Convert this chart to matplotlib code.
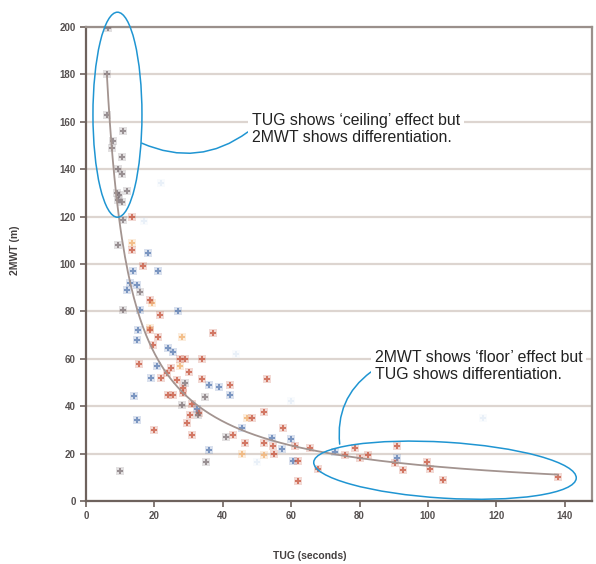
import numpy as np
import matplotlib
matplotlib.use("Agg")
import matplotlib.pyplot as plt
from matplotlib.patches import Ellipse
from matplotlib.transforms import ScaledTranslation

plt.rcParams['font.family'] = ['Liberation Sans', 'DejaVu Sans']

# ---- data (TUG seconds, 2MWT metres) ----
gray_x = [6.4, 6.1, 6.1, 7.9, 7.6, 10.5, 9.4, 10.5, 12.0, 9.1, 9.6, 9.4, 10.5, 10.8, 10.8,
          9.4, 15.8, 10.8, 29.0, 34.8, 28.0, 32.8, 41.0, 35.0, 10.0]
gray_y = [199.6, 180, 163, 152, 149, 145, 140, 138, 131, 130, 129, 127, 126, 156, 118.6,
          108, 88, 80.6, 50, 44, 40.5, 36.3, 27, 16.5, 12.7]

blue_x = [18.0, 13.7, 21.0, 12.9, 14.9, 12.0, 15.8, 26.9, 15.2, 14.9, 24.0, 25.4, 20.8, 19.0,
          36.0, 39.0, 42.0, 14.0, 32.5, 14.9, 45.6, 54.4, 60.0, 57.3, 36.0, 60.5, 72.8, 91.0]
blue_y = [104.6, 97, 97, 92, 91, 89, 80.6, 80, 72, 68, 64.5, 63, 57, 52,
          49, 48, 44.7, 44.3, 39, 34, 31, 26.6, 26, 22, 21.5, 17, 20.7, 18]

red_x = [13.5, 13.5, 16.7, 18.7, 21.6, 18.7, 37.0, 21.0, 19.6, 27.5, 29.0, 34.0, 15.5, 25.0,
         30.0, 23.7, 22.0, 26.6, 34.0, 53.0, 42.0, 28.5, 24.0, 25.4, 28.4, 31.0, 33.0, 30.4,
         29.5, 48.5, 52.0, 57.6, 20.0, 31.0, 43.0, 46.5, 52.0, 54.7, 55.0, 61.0, 65.5, 62.0,
         68.0, 62.0, 75.7, 78.6, 80.0, 82.5, 91.0, 90.4, 92.7, 99.7, 100.6, 104.4, 138.0]
red_y = [120, 106, 99, 85, 78.5, 72, 71, 69, 66, 60, 60, 60, 58, 56,
         54.5, 54, 52, 51, 51.5, 51.5, 49, 47.7, 44.7, 44.7, 45.5, 41, 37, 36.3,
         33, 35, 37.5, 31, 30, 28, 28, 24.5, 24.5, 23, 20, 23, 22.4, 17,
         13.5, 8.5, 19.4, 22.4, 18, 19.4, 23.2, 16, 13, 16.5, 13.5, 8.9, 10]

orange_x = [13.5, 19.3, 18.7, 28.0, 27.5, 47.0, 52.0, 45.6]
orange_y = [109, 83.5, 73, 69, 57, 35, 19.4, 20]

pale_x = [22.0, 116.0, 50.0, 17.0, 60.0, 44.0]
pale_y = [134, 35, 16.5, 118, 42, 62]

x_ticks = [0, 20, 40, 60, 80, 100, 120, 140]
y_ticks = [0, 20, 40, 60, 80, 100, 120, 140, 160, 180, 200]

note_ceiling = "TUG shows \u2018ceiling\u2019 effect but\n2MWT shows differentiation."
note_floor = "2MWT shows \u2018floor\u2019 effect but\nTUG shows differentiation."

# ---- figure ----
fig = plt.figure(figsize=(5.96, 5.64), dpi=100)
ax = fig.add_axes([0.1443, 0.1117, 0.849, 0.8404])
ax.set_xlim(0, 148)
ax.set_ylim(0, 200)

ax.set_yticks(y_ticks)
ax.set_xticks(x_ticks)
ax.yaxis.grid(True, color='#ddd5d0', lw=1.6, zorder=0)
ax.set_axisbelow(True)

for side in ['left', 'bottom']:
    ax.spines[side].set_color('#6e625d')
    ax.spines[side].set_linewidth(1.6)
for side in ['top', 'right']:
    ax.spines[side].set_color('#9a908b')
    ax.spines[side].set_linewidth(1.6)
ax.tick_params(direction='out', length=4, width=1.2, color='#6e625d',
               labelsize=7, labelcolor='#555050')
for lab in ax.get_xticklabels() + ax.get_yticklabels():
    lab.set_fontweight('bold')

# scatter groups: soft halo + filled plus to mimic the blurred markers
groups = [(pale_x, pale_y, '#d6e4f2', 0.45),
          (orange_x, orange_y, '#f2b477', 0.8),
          (blue_x, blue_y, '#5b7db3', 0.75),
          (red_x, red_y, '#c8563f', 0.75),
          (gray_x, gray_y, '#7a6e72', 0.7)]
for gx, gy, col, al in groups:
    ax.scatter(gx, gy, color=col, alpha=al * 0.3, marker='s', s=34, linewidths=0, zorder=3)
    ax.scatter(gx, gy, color=col, alpha=al, marker='P', s=24, linewidths=0, zorder=3)

# power trend line fitted from the data
all_x = np.array(gray_x + blue_x + red_x + orange_x)
all_y = np.array(gray_y + blue_y + red_y + orange_y)
b, loga = np.polyfit(np.log(all_x), np.log(all_y), 1)
tx = np.linspace(min(all_x), max(all_x), 300)
ty = np.exp(loga) * tx ** b
ax.plot(tx, ty, color='#a39490', lw=1.3, zorder=4)

# ellipses
ell_col = '#1f95d2'
e1 = Ellipse((0, 0), 0.49, 2.05, angle=0, fill=False, ec=ell_col, lw=1.1,
             transform=fig.dpi_scale_trans + ScaledTranslation(9.2, 163, ax.transData),
             clip_on=False, zorder=6)
e2 = Ellipse((0, 0), 2.63, 0.56, angle=-3.5, fill=False, ec=ell_col, lw=1.1,
             transform=fig.dpi_scale_trans + ScaledTranslation(105.0, 13.0, ax.transData),
             clip_on=False, zorder=6)
ax.add_patch(e1)
ax.add_patch(e2)

# callouts
ax.annotate(note_ceiling, xy=(16.3, 151), xytext=(48.5, 157),
            fontsize=11.4, color='#222222', va='center', ha='left', linespacing=1.2,
            bbox=dict(boxstyle='square,pad=0.25', fc='white', ec='none'),
            arrowprops=dict(arrowstyle='-', color=ell_col, lw=1.1,
                            connectionstyle='arc3,rad=-0.3', shrinkA=0, shrinkB=0,
                            relpos=(0, 0.5)),
            zorder=7)
ax.annotate(note_floor, xy=(74.2, 24.0), xytext=(84.5, 57.0),
            fontsize=11.4, color='#222222', va='center', ha='left', linespacing=1.2,
            bbox=dict(boxstyle='square,pad=0.25', fc='white', ec='none'),
            arrowprops=dict(arrowstyle='-', color=ell_col, lw=1.1,
                            connectionstyle='arc3,rad=0.3', shrinkA=0, shrinkB=0,
                            relpos=(0, 0.4)),
            zorder=7)

ax.set_xlabel('TUG (seconds)', fontsize=7.5, fontweight='bold', color='#444040')
ax.xaxis.set_label_coords(0.443, -0.105)
ax.set_ylabel('2MWT (m)', fontsize=7.5, fontweight='bold', color='#444040')
ax.yaxis.set_label_coords(-0.13, 0.53)

fig.savefig('out.png', dpi=100)
